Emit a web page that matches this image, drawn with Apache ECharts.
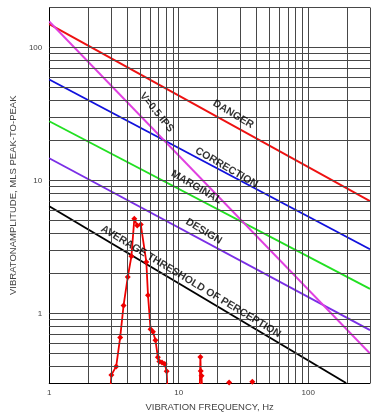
<!DOCTYPE html>
<html>
<head>
<meta charset="utf-8">
<script src="https://cdn.jsdelivr.net/npm/echarts@6/dist/echarts.min.js"></script>
<style>
  html, body { margin: 0; padding: 0; background: #fff; }
  #chart { width: 373px; height: 417px; }
</style>
</head>
<body>
<div id="chart"></div>
<script>
// grid line positions (log decades 1..300 and 0.3..200)
const xGrid = [2, 3, 4, 5, 6, 7, 8, 9, 10, 20, 30, 40, 50, 60, 70, 80, 90, 100, 200, 300]
const yGrid = [0.4, 0.5, 0.6, 0.7, 0.8, 0.9, 1, 2, 3, 4, 5, 6, 7, 8, 9, 10, 20, 30, 40, 50, 60, 70, 80, 90, 100, 200]

// criteria lines, [frequency, mils]
const danger = [[1, 150], [300, 7.0]]
const correction = [[1, 57.5], [300, 3.04]]
const marginal = [[1, 27.9], [300, 1.53]]
const design = [[1, 14.7], [300, 0.75]]
const threshold = [[1, 6.4], [196, 0.3]]
const velocity = [[1, 157], [300, 0.5]]

// measured spectrum (drops below the axis between peaks)
const measured = [
  [2.95, 0.25], [3.02, 0.345], [3.29, 0.40], [3.53, 0.66], [3.75, 1.15], [4.04, 1.88],
  [4.31, 2.69], [4.54, 5.15], [4.78, 4.58], [5.09, 4.67], [5.62, 2.44], [5.79, 1.37],
  [6.06, 0.76], [6.32, 0.73], [6.61, 0.63], [6.90, 0.468], [7.09, 0.435], [7.43, 0.427],
  [7.79, 0.417], [8.07, 0.368], [8.2, 0.25],
  [14.5, 0.25], [14.7, 0.47], [14.8, 0.37], [15.0, 0.34], [15.2, 0.25],
  [24.0, 0.25], [24.5, 0.302], [25.0, 0.25],
  [36.0, 0.25], [37.0, 0.307], [38.0, 0.25]
]

// line captions: [frequency, mils, text, angle]
const captions = [
  [26.4, 31.5, 'DANGER', -31],
  [23.4, 12.5, 'CORRECTION', -30],
  [13.7, 8.9, 'MARGINAL', -30],
  [15.6, 4.15, 'DESIGN', -31],
  [12.4, 1.74, 'AVERAGE THRESHOLD OF PERCEPTION', -31],
  [6.75, 32.5, 'V=0.5 IPS', -51]
]

const isDecade = v => Math.abs(Math.log10(v) - Math.round(Math.log10(v))) < 1e-6

const criteria = (data, color) => ({
  type: 'line',
  data,
  symbol: 'none',
  lineStyle: { color, width: 1.9 },
  silent: true,
  z: 3
})

const chart = echarts.init(document.getElementById('chart'))
chart.setOption({
  animation: false,
  textStyle: { fontFamily: 'Liberation Sans, Arial, sans-serif' },
  grid: { left: 46, right: 0, top: 7.5, bottom: 32.5, containLabel: false },
  xAxis: {
    type: 'log',
    logBase: 10,
    min: 1,
    max: 300,
    name: 'VIBRATION FREQUENCY, Hz',
    nameLocation: 'middle',
    nameGap: 19,
    nameTextStyle: { fontSize: 9.5, color: '#444' },
    axisLine: { lineStyle: { color: '#000', width: 1 } },
    axisTick: { show: false },
    splitLine: { show: false },
    axisLabel: {
      fontSize: 8, color: '#444', margin: 6,
      formatter: v => isDecade(v) ? String(Math.round(v)) : ''
    }
  },
  yAxis: {
    type: 'log',
    logBase: 10,
    min: 0.3,
    max: 200,
    name: 'VIBRATONAMPLITUDE, MLS PEAK-TO-PEAK',
    nameLocation: 'middle',
    nameGap: 24,
    nameRotate: 90,
    nameTextStyle: { fontSize: 9.5, color: '#444' },
    axisLine: { show: true, lineStyle: { color: '#000', width: 1 } },
    axisTick: { show: false },
    splitLine: { show: false },
    axisLabel: {
      fontSize: 8, color: '#444', margin: 7,
      formatter: v => isDecade(v) ? String(Math.round(v)) : ''
    }
  },
  series: [
    {
      type: 'line',
      data: [],
      silent: true,
      markLine: {
        silent: true,
        symbol: 'none',
        label: { show: false },
        lineStyle: { color: '#474747', width: 1, type: 'solid' },
        data: xGrid.map(v => ({ xAxis: v })).concat(yGrid.map(v => ({ yAxis: v })))
      },
      z: 1
    },
    criteria(danger, '#ee1111'),
    criteria(correction, '#1111dd'),
    criteria(marginal, '#22e022'),
    criteria(design, '#7a2ee6'),
    criteria(threshold, '#000000'),
    criteria(velocity, '#e040e0'),
    {
      type: 'line',
      data: measured,
      symbol: 'diamond',
      symbolSize: 6,
      showAllSymbol: true,
      itemStyle: { color: '#ee0000' },
      lineStyle: { color: '#ee0000', width: 1.8 },
      clip: true,
      z: 4
    },
    {
      type: 'scatter',
      symbolSize: 0,
      silent: true,
      data: captions.map(c => ({ value: [c[0], c[1]], name: c[2], label: { rotate: c[3] } })),
      label: {
        show: true,
        position: 'inside',
        formatter: p => p.name,
        fontSize: 10.5,
        fontWeight: 'bold',
        color: '#000'
      },
      z: 5
    }
  ]
})
</script>
</body>
</html>
